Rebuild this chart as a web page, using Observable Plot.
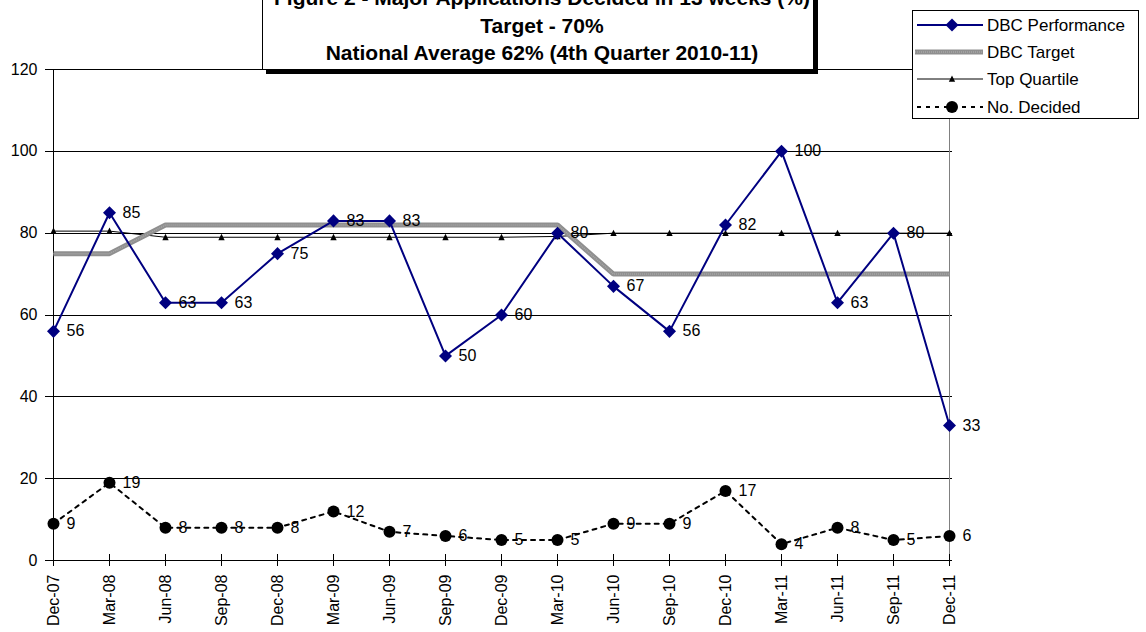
<!DOCTYPE html>
<html><head><meta charset="utf-8">
<script src="https://cdn.jsdelivr.net/npm/d3@7"></script>
<script src="https://cdn.jsdelivr.net/npm/@observablehq/plot@0.6"></script>
<style>
body{margin:0;background:#fff;font-family:Arial,"Liberation Sans",sans-serif;}
#wrap{position:relative;width:1146px;height:632px;overflow:hidden;background:#fff;}
#chart{position:absolute;left:0;top:0;}
#title{position:absolute;left:262px;top:-17px;width:542px;padding:0 0 2px 8px;border:1px solid #000;background:#fff;
  box-shadow:4px 4px 0 #000;text-align:center;font-weight:bold;font-size:21px;line-height:27.7px;color:#000;}
#legend{position:absolute;left:912px;top:10px;}
</style></head><body>
<div id="wrap"><div id="chart"></div><div id="title"></div><div id="legend"></div></div>
<script>
const titleLines = ["Figure 2 - Major Applications Decided in 13 weeks (%)", "Target - 70%", "National Average 62% (4th Quarter 2010-11)"];
const quarters = ["Dec-07","Mar-08","Jun-08","Sep-08","Dec-08","Mar-09","Jun-09","Sep-09","Dec-09","Mar-10","Jun-10","Sep-10","Dec-10","Mar-11","Jun-11","Sep-11","Dec-11"];
const performance = [56,85,63,63,75,83,83,50,60,80,67,56,82,100,63,80,33];
const target = [75,75,82,82,82,82,82,82,82,82,70,70,70,70,70,70,70];
const topQuartile = [80.5,80.5,79,79,79,79,79,79,79,79.2,80,80,80,80,80,80,80];
const decided = [9,19,8,8,8,12,7,6,5,5,9,9,17,4,8,5,6];
const yTicks = [0,20,40,60,80,100,120];
const seriesNames = ["DBC Performance","DBC Target","Top Quartile","No. Decided"];

const rows = quarters.map((q,i)=>({q, perf: performance[i], target: target[i], top: topQuartile[i], dec: decided[i]}));

const diamondSq = {draw(ctx, size){ const h = Math.sqrt(size/2); ctx.moveTo(0,-h); ctx.lineTo(h,0); ctx.lineTo(0,h); ctx.lineTo(-h,0); ctx.closePath(); }};
const triSym = {draw(ctx, size){ const s = Math.sqrt(size); ctx.moveTo(0,-s*0.55); ctx.lineTo(s*0.5,s*0.45); ctx.lineTo(-s*0.5,s*0.45); ctx.closePath(); }};

const NAVY = "#000080";
const font = 'Arial, "Liberation Sans", sans-serif';
const crisp = {shapeRendering: "crispEdges"};

const plot = Plot.plot({
  width: 1146, height: 632,
  marginLeft: 50, marginRight: 194, marginTop: 69, marginBottom: 72,
  style: {fontFamily: font, fontSize: "16px", color: "#000", background: "transparent"},
  x: {type: "point", domain: quarters, padding: 0},
  y: {domain: [0,120]},
  marks: [
    Plot.ruleY(yTicks.filter(d=>d>0), {stroke: "#000", strokeWidth: 1, ...crisp}),
    Plot.ruleX([quarters[quarters.length-1]], {stroke: "#808080", ...crisp}),
    Plot.ruleX([quarters[0]], {stroke: "#000", ...crisp}),
    Plot.ruleY([0], {stroke: "#000", ...crisp}),
    Plot.axisY({ticks: yTicks, tickSize: 5, tickPadding: 8, fontSize: 16, label: null, ...crisp}),
    Plot.axisX({tickSize: 12, dy: -6, tickFormat: () => "", label: null, ...crisp}),
    Plot.axisX({tickSize: 0, tickPadding: 14, tickRotate: -90, fontSize: 16, label: null}),
    Plot.line(rows, {x: "q", y: "top", stroke: "#000", strokeWidth: 1}),
    Plot.dot(rows, {x: "q", y: "top", symbol: triSym, r: 3.6, fill: "#000"}),
    Plot.line(rows, {x: "q", y: "target", stroke: "#8f8f8f", strokeWidth: 5, strokeLinejoin: "miter", strokeLinecap: "butt"}),
    Plot.line(rows, {x: "q", y: "target", stroke: "#a8a8a8", strokeWidth: 1.5, strokeDasharray: "1,1", strokeLinecap: "butt"}),
    Plot.line(rows, {x: "q", y: "perf", stroke: NAVY, strokeWidth: 2}),
    Plot.dot(rows, {x: "q", y: "perf", symbol: diamondSq, r: 5.2, fill: NAVY}),
    Plot.line(rows, {x: "q", y: "dec", stroke: "#000", strokeWidth: 2, strokeDasharray: "4,5"}),
    Plot.dot(rows, {x: "q", y: "dec", r: 6, fill: "#000"}),
    Plot.text(rows, {x: "q", y: "perf", text: d => String(d.perf), dx: 13, textAnchor: "start", fontSize: 16, fill: "#000"}),
    Plot.text(rows, {x: "q", y: "dec", text: d => String(d.dec), dx: 13, textAnchor: "start", fontSize: 16, fill: "#000"})
  ]
});
document.getElementById("chart").appendChild(plot);

// Title
const t = document.getElementById("title");
titleLines.forEach(s => { const d = document.createElement("div"); d.textContent = s; t.appendChild(d); });

// Legend
const lw = 226, lh = 108;
const lg = d3.select("#legend").append("svg").attr("width", lw+1).attr("height", lh+1)
  .style("font-family", font).style("font-size", "17px");
lg.append("rect").attr("x",0.5).attr("y",0.5).attr("width",lw).attr("height",lh).attr("fill","#fff").attr("stroke","#000");
const ys = [15, 42, 69, 97];
const x0 = 5, x1 = 71, xm = 40, xt = 75;
lg.append("line").attr("x1",x0).attr("x2",x1).attr("y1",ys[0]).attr("y2",ys[0]).attr("stroke",NAVY).attr("stroke-width",2);
lg.append("path").attr("d", d3.symbol(diamondSq, 84)()).attr("transform",`translate(${xm},${ys[0]})`).attr("fill",NAVY);
lg.append("line").attr("x1",x0-2).attr("x2",x1).attr("y1",ys[1]).attr("y2",ys[1]).attr("stroke","#8f8f8f").attr("stroke-width",5);
lg.append("line").attr("x1",x0-2).attr("x2",x1).attr("y1",ys[1]).attr("y2",ys[1]).attr("stroke","#a8a8a8").attr("stroke-width",1.5).attr("stroke-dasharray","1,1");
lg.append("line").attr("x1",x0).attr("x2",x1).attr("y1",ys[2]).attr("y2",ys[2]).attr("stroke","#000").attr("stroke-width",1);
lg.append("path").attr("d", d3.symbol(triSym, 40)()).attr("transform",`translate(${xm},${ys[2]})`).attr("fill","#000");
lg.append("line").attr("x1",x0).attr("x2",x1).attr("y1",ys[3]).attr("y2",ys[3]).attr("stroke","#000").attr("stroke-width",2).attr("stroke-dasharray","4,5");
lg.append("circle").attr("cx",xm).attr("cy",ys[3]).attr("r",6).attr("fill","#000");
seriesNames.forEach((n,i) => lg.append("text").attr("x",xt).attr("y",ys[i]).attr("dy","0.35em").attr("fill","#000").text(n));
</script>
</body></html>
